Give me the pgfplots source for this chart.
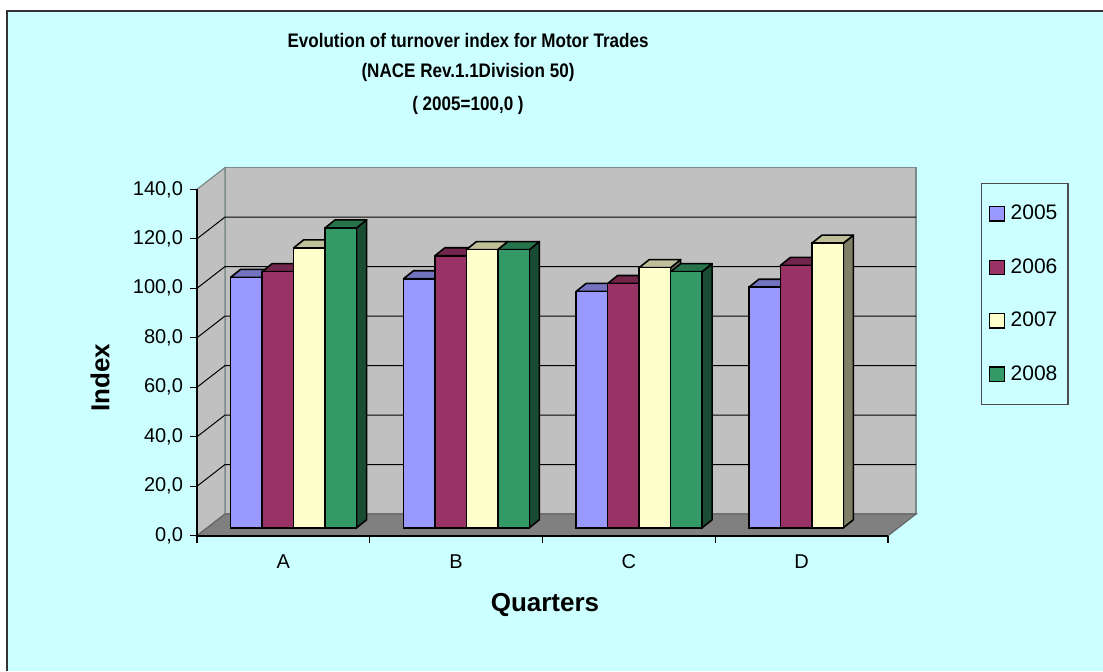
\documentclass[border=0pt]{standalone}
\usepackage{fontspec}
\setmainfont{Liberation Sans}
\usepackage{graphicx}
\usepackage{pgfplots}
\usepackage{pgfplotstable}
\pgfplotsset{compat=1.18}

\definecolor{c1}{HTML}{9999FF}
\definecolor{c2}{HTML}{993366}
\definecolor{c3}{HTML}{FFFFCC}
\definecolor{c4}{HTML}{339966}
\definecolor{bgcyan}{HTML}{CCFFFF}
\definecolor{wallc}{HTML}{C0C0C0}
\definecolor{floorc}{HTML}{808080}
\definecolor{edgec}{HTML}{7A8A8A}

\pgfplotstableread{
x   y1    y2    y3    y4
0.5 101.2 103.5 113.1 121.2
1.5 100.6 109.9 112.4 112.4
2.5 95.5  98.7  105.1 103.5
3.5 97.2  106.0 115.0 nan
}\data

% a 3-D bar drawn relative to the top front centre of the bar; height from the value
\newcommand\defbarmark[2]{%
\pgfdeclareplotmark{bar#1}{%
  \pgfsetstrokecolor{black}\pgfsetlinewidth{0.8pt}\pgfsetroundjoin
  \pgfsetfillcolor{#2!50!black}%
  \pgfpathmoveto{\pgfpoint{7.875pt}{0pt}}%
  \pgfpathlineto{\pgfpoint{12.875pt}{4pt}}%
  \pgfpathlineto{\pgfpoint{12.875pt}{4pt-\barval*1.23714pt}}%
  \pgfpathlineto{\pgfpoint{7.875pt}{-\barval*1.23714pt}}%
  \pgfpathclose
  \pgfusepathqfillstroke
  \pgfsetfillcolor{#2!75!black}%
  \pgfpathmoveto{\pgfpoint{-7.875pt}{0pt}}%
  \pgfpathlineto{\pgfpoint{7.875pt}{0pt}}%
  \pgfpathlineto{\pgfpoint{12.875pt}{4pt}}%
  \pgfpathlineto{\pgfpoint{-2.875pt}{4pt}}%
  \pgfpathclose
  \pgfusepathqfillstroke
  \pgfsetfillcolor{#2}%
  \pgfpathrectangle{\pgfpoint{-7.875pt}{-\barval*1.23714pt}}{\pgfpoint{15.75pt}{\barval*1.23714pt}}%
  \pgfusepathqfillstroke}}
\defbarmark{1}{c1}
\defbarmark{2}{c2}
\defbarmark{3}{c3}
\defbarmark{4}{c4}

\newcommand\barseries[4]{%
  \addplot[forget plot, ybar, bar width=15.75pt, bar shift=0pt,
    fill=#2, draw=black, line width=0.8pt, xshift=#3, yshift=4pt]
    table[x=x, y=#1]{\data};
  \addplot[forget plot, only marks, mark=bar#4,
    visualization depends on={rawy\as\barval},
    xshift=#3, yshift=4pt]
    table[x=x, y=#1]{\data};
}

\begin{document}
\begin{tikzpicture}
\useasboundingbox (0,0) rectangle (551.5pt,335.5pt);
\fill[white] (0,0) rectangle (551.5pt,335.5pt);
\fill[bgcyan] (3.5pt,0) rectangle (551.5pt,330pt);
\draw[line width=1pt, black!80] (3.5pt,0) -- (3.5pt,330pt) -- (551.5pt,330pt);

\node[font=\bfseries\fontsize{9.8}{11}\selectfont] at (234pt,315.5pt) {\scalebox{0.87}[1]{Evolution of turnover index for Motor Trades}};
\node[font=\bfseries\fontsize{9.8}{11}\selectfont] at (234pt,299.5pt) {\scalebox{0.87}[1]{(NACE Rev.1.1Division 50)}};
\node[font=\bfseries\fontsize{9.8}{11}\selectfont] at (234pt,283pt) {\scalebox{0.87}[1]{( 2005=100,0 )}};

\begin{axis}[
  at={(98.5pt,67.65pt)}, anchor=south west,
  scale only axis, width=345.5pt, height=173.2pt,
  xmin=0, xmax=4, ymin=0, ymax=140,
  clip=false, axis on top,
  axis x line*=bottom, axis y line*=left,
  axis line style={black, line width=0.8pt},
  tick style={black, line width=0.6pt},
  tick align=outside,
  major tick length=3.5pt,
  ytick={0,20,...,140},
  yticklabel style={font=\fontsize{10}{12}\selectfont},
  /pgf/number format/.cd, fixed, fixed zerofill, precision=1, use comma, assume math mode=true,
  /pgfplots/.cd,
  xtick={0,1,2,3,4},
  xticklabels={,,,,},
  extra x ticks={0.5,1.5,2.5,3.5},
  extra x tick labels={A,B,C,D},
  extra x tick style={major tick length=0pt, xticklabel style={font=\fontsize{10}{12}\selectfont, yshift=-6pt}},
  legend image code/.code={\draw[#1] (0pt,-3.6pt) rectangle (7.2pt,3.6pt);},
  legend style={at={(1.1346,1.018)}, anchor=north west, draw=black!70, fill=none,
    font=\fontsize{10.5}{12}\selectfont, row sep=13.9pt, column sep=0pt,
    inner xsep=3.75pt, inner ysep=8.7pt,
    nodes={inner xsep=1.5pt},
    /tikz/every odd column/.append style={column sep=1.5pt},
    line width=0.6pt},
  legend cell align=left,
]
% back wall
\filldraw[fill=wallc, draw=edgec, line width=0.6pt]
  ([shift={(14pt,10.85pt)}]axis cs:0,0) rectangle ([shift={(14pt,10.85pt)}]axis cs:4,140);
% left side wall
\filldraw[fill=wallc, draw=edgec, line width=0.6pt]
  (axis cs:0,0) -- (axis cs:0,140) -- ([shift={(14pt,10.85pt)}]axis cs:0,140)
  -- ([shift={(14pt,10.85pt)}]axis cs:0,0) -- cycle;
% floor
\filldraw[fill=floorc, draw=black!60, line width=0.6pt]
  (axis cs:0,0) -- (axis cs:4,0) -- ([shift={(14pt,10.85pt)}]axis cs:4,0)
  -- ([shift={(14pt,10.85pt)}]axis cs:0,0) -- cycle;
% grid lines
\pgfplotsinvokeforeach{20,40,60,80,100,120}{
  \draw[black, line width=0.5pt] (axis cs:0,#1) -- ([shift={(14pt,10.85pt)}]axis cs:0,#1)
    -- ([shift={(14pt,10.85pt)}]axis cs:4,#1);
}

\barseries{y1}{c1}{-18.475pt}{1}
\barseries{y2}{c2}{-2.725pt}{2}
\barseries{y3}{c3}{13.025pt}{3}
\barseries{y4}{c4}{28.775pt}{4}

\addlegendimage{fill=c1, draw=black, line width=0.6pt}\addlegendentry{2005}
\addlegendimage{fill=c2, draw=black, line width=0.6pt}\addlegendentry{2006}
\addlegendimage{fill=c3, draw=black, line width=0.6pt}\addlegendentry{2007}
\addlegendimage{fill=c4, draw=black, line width=0.6pt}\addlegendentry{2008}
\end{axis}

\node[rotate=90, font=\bfseries\fontsize{13}{15}\selectfont] at (50pt,146.5pt) {Index};
\node[font=\bfseries\fontsize{13}{15}\selectfont] at (272.5pt,33pt) {Quarters};
\end{tikzpicture}
\end{document}
